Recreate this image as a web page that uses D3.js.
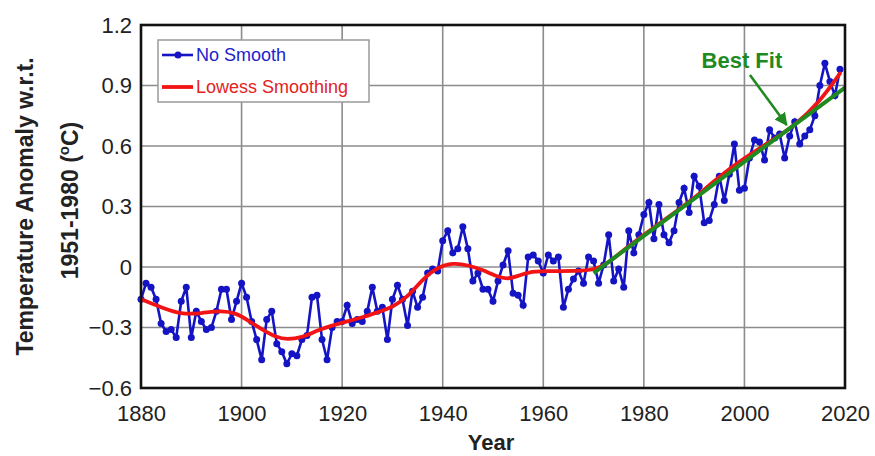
<!DOCTYPE html>
<html>

<head>
  <meta charset="utf-8">
  <title>temperature-anomaly</title>
  <style>
    * {
      padding: 0;
      margin: 0;
    }

    body {
      background: #fff;
      font-family: Arial, "Liberation Sans", sans-serif;
    }

    .grid line {
      stroke: #8c8c8c;
      stroke-width: 1.6;
    }

    .axis text {
      font-size: 22px;
      fill: #222;
    }

    .axis path,
    .axis line {
      display: none;
    }
  </style>
</head>

<body>
  <svg id="svg"></svg>
  <script src="https://cdnjs.cloudflare.com/ajax/libs/d3/7.8.5/d3.min.js"></script>
  <script>
    // annual anomalies, 1880..2019
    const startYear = 1880;
    const anomalies = [
      -0.16, -0.08, -0.10, -0.16, -0.28, -0.32, -0.31, -0.35, -0.17, -0.10,
      -0.35, -0.22, -0.27, -0.31, -0.30, -0.22, -0.11, -0.11, -0.26, -0.17,
      -0.08, -0.15, -0.27, -0.36, -0.46, -0.26, -0.22, -0.38, -0.42, -0.48,
      -0.43, -0.44, -0.36, -0.34, -0.15, -0.14, -0.36, -0.46, -0.30, -0.27,
      -0.27, -0.19, -0.28, -0.26, -0.27, -0.22, -0.10, -0.22, -0.20, -0.36,
      -0.16, -0.09, -0.16, -0.29, -0.12, -0.20, -0.15, -0.03, -0.01, -0.02,
      0.13, 0.18, 0.07, 0.09, 0.20, 0.09, -0.07, -0.03, -0.11, -0.11,
      -0.17, -0.07, 0.01, 0.08, -0.13, -0.14, -0.19, 0.05, 0.06, 0.03,
      -0.03, 0.06, 0.03, 0.05, -0.20, -0.11, -0.06, -0.02, -0.08, 0.05,
      0.03, -0.08, 0.01, 0.16, -0.07, -0.01, -0.10, 0.18, 0.07, 0.16,
      0.26, 0.32, 0.14, 0.31, 0.16, 0.12, 0.18, 0.32, 0.39, 0.27,
      0.45, 0.40, 0.22, 0.23, 0.31, 0.45, 0.33, 0.46, 0.61, 0.38,
      0.39, 0.54, 0.63, 0.62, 0.53, 0.68, 0.64, 0.66, 0.54, 0.65,
      0.72, 0.61, 0.65, 0.68, 0.75, 0.90, 1.01, 0.92, 0.85, 0.98
    ];

    // lowess curve
    const smoothYears = [1880, 1884, 1888, 1892, 1896, 1899, 1901, 1904, 1907, 1909,
      1912, 1915, 1918, 1921, 1924, 1927, 1930, 1933, 1936, 1939,
      1942, 1945, 1948, 1951, 1953, 1955, 1957, 1960, 1967, 1970,
      1973, 1976, 1980, 1985, 1990, 1995, 2000, 2005, 2010, 2015, 2019];
    const smoothValues = [-0.16, -0.20, -0.235, -0.23, -0.215, -0.23, -0.26, -0.31, -0.35, -0.36,
      -0.35, -0.315, -0.29, -0.27, -0.25, -0.225, -0.20, -0.15, -0.06, 0.00,
      0.02, 0.01, -0.015, -0.05, -0.06, -0.045, -0.025, -0.02, -0.02, -0.015,
      0.02, 0.085, 0.16, 0.25, 0.34, 0.45, 0.54, 0.62, 0.70, 0.82, 0.96];

    // linear best fit, 1970..2020
    const fitYears = [1970, 2020];
    const fitValues = [-0.03, 0.89];

    const xTicks = [1880, 1900, 1920, 1940, 1960, 1980, 2000, 2020];
    const yTicks = [-0.6, -0.3, 0, 0.3, 0.6, 0.9, 1.2];

    const legendLabels = ['No Smooth', 'Lowess Smoothing'];

    // "Best Fit" note and its arrow, in data units
    const noteAt = [1999.5, 0.987];
    const arrowFrom = [2001.1, 0.952];
    const arrowTo = [2008.4, 0.704];

    const dimension = {
      width: 875,
      height: 456,
      margin: { top: 25, right: 30, bottom: 68, left: 141 }
    };
    const blue = '#1414c4', red = '#f21414', green = '#1f8a1f';

    const svg = d3.select('#svg').attr('width', dimension.width).attr('height', dimension.height);

    const xScale = d3.scaleLinear().domain([1880, 2020])
      .range([dimension.margin.left, dimension.width - dimension.margin.right]);
    const yScale = d3.scaleLinear().domain([-0.6, 1.2])
      .range([dimension.height - dimension.margin.bottom, dimension.margin.top]);

    const points = anomalies.map((v, i) => ({ year: startYear + i, value: v }));
    const smooth = smoothYears.map((y, i) => ({ year: y, value: smoothValues[i] }));
    const fit = fitYears.map((y, i) => ({ year: y, value: fitValues[i] }));

    // grid
    const grid = svg.append('g').attr('class', 'grid');
    grid.selectAll('.gx').data(xTicks.slice(1, -1)).enter().append('line')
      .attr('x1', d => xScale(d)).attr('x2', d => xScale(d))
      .attr('y1', yScale(1.2)).attr('y2', yScale(-0.6));
    grid.selectAll('.gy').data(yTicks.slice(1, -1)).enter().append('line')
      .attr('x1', xScale(1880)).attr('x2', xScale(2020))
      .attr('y1', d => yScale(d)).attr('y2', d => yScale(d));

    // axes (labels only)
    svg.append('g').attr('class', 'axis')
      .attr('transform', `translate(0, ${yScale(-0.6)})`)
      .call(d3.axisBottom(xScale).tickValues(xTicks).tickFormat(d3.format('d')).tickSize(0).tickPadding(17));
    svg.append('g').attr('class', 'axis')
      .attr('transform', `translate(${xScale(1880)}, 0)`)
      .call(d3.axisLeft(yScale).tickValues(yTicks).tickFormat(d => d === 0 ? '0' : d3.format('.1f')(d)).tickSize(0).tickPadding(9));

    // data
    const line = d3.line().x(d => xScale(d.year)).y(d => yScale(d.value));

    svg.append('path').datum(points)
      .attr('d', line)
      .attr('fill', 'none').attr('stroke', blue).attr('stroke-width', 2.6);
    svg.selectAll('.dot').data(points).enter().append('circle')
      .attr('class', 'dot')
      .attr('cx', d => xScale(d.year))
      .attr('cy', d => yScale(d.value))
      .attr('r', 3.5)
      .attr('fill', blue);

    svg.append('path').datum(smooth)
      .attr('d', d3.line().x(d => xScale(d.year)).y(d => yScale(d.value)).curve(d3.curveBasis))
      .attr('fill', 'none').attr('stroke', red).attr('stroke-width', 3.8).attr('stroke-linecap', 'round');

    svg.append('path').datum(fit)
      .attr('d', line)
      .attr('fill', 'none').attr('stroke', green).attr('stroke-width', 4);

    // frame
    svg.append('rect')
      .attr('x', xScale(1880)).attr('y', yScale(1.2))
      .attr('width', xScale(2020) - xScale(1880))
      .attr('height', yScale(-0.6) - yScale(1.2))
      .attr('fill', 'none').attr('stroke', '#111').attr('stroke-width', 2.6);

    // best fit note
    svg.append('defs').append('marker')
      .attr('id', 'arrow').attr('viewBox', '0 0 10 10')
      .attr('refX', 9).attr('refY', 5)
      .attr('markerWidth', 5).attr('markerHeight', 5)
      .attr('orient', 'auto')
      .append('path').attr('d', 'M0,0 L10,5 L0,10 z').attr('fill', green);
    svg.append('line')
      .attr('x1', xScale(arrowFrom[0])).attr('y1', yScale(arrowFrom[1]))
      .attr('x2', xScale(arrowTo[0])).attr('y2', yScale(arrowTo[1]))
      .attr('stroke', green).attr('stroke-width', 2.6)
      .attr('marker-end', 'url(#arrow)');
    svg.append('text')
      .attr('x', xScale(noteAt[0])).attr('y', yScale(noteAt[1]))
      .attr('text-anchor', 'middle')
      .style('font-size', '22px').style('font-weight', 'bold')
      .attr('fill', green)
      .text('Best Fit');

    // legend
    const legend = svg.append('g').attr('transform', 'translate(158, 40)');
    legend.append('rect')
      .attr('width', 211).attr('height', 62)
      .attr('fill', '#fff').attr('stroke', '#9a9a9a').attr('stroke-width', 1.5);
    const items = legend.selectAll('.legend-item').data(legendLabels).enter().append('g')
      .attr('transform', (d, i) => `translate(0, ${15 + i * 32})`);
    items.append('line')
      .attr('x1', 4).attr('x2', 35)
      .attr('stroke', (d, i) => i === 0 ? blue : red)
      .attr('stroke-width', (d, i) => i === 0 ? 2.6 : 3.8);
    items.filter((d, i) => i === 0).append('circle')
      .attr('cx', 20).attr('r', 3.5).attr('fill', blue);
    items.append('text')
      .attr('x', 38).attr('dy', '0.35em')
      .style('font-size', '18px')
      .attr('fill', (d, i) => i === 0 ? '#2222cc' : '#e42222')
      .text(d => d);

    // axis titles
    svg.append('text')
      .attr('x', (xScale(1880) + xScale(2020)) / 2 - 2).attr('y', 450)
      .attr('text-anchor', 'middle')
      .style('font-size', '22px').style('font-weight', 'bold')
      .attr('fill', '#222')
      .text('Year');

    const midY = (yScale(1.2) + yScale(-0.6)) / 2;
    svg.append('text')
      .attr('transform', `translate(33, ${midY}) rotate(-90)`)
      .attr('text-anchor', 'middle')
      .style('font-size', '23px').style('font-weight', 'bold')
      .attr('fill', '#222')
      .text('Temperature Anomaly w.r.t.');
    const t2 = svg.append('text')
      .attr('transform', `translate(78, ${midY - 6}) rotate(-90)`)
      .attr('text-anchor', 'middle')
      .style('font-size', '23px').style('font-weight', 'bold')
      .attr('fill', '#222');
    t2.append('tspan').text('1951-1980 (');
    t2.append('tspan').attr('dy', -9).style('font-size', '15px').text('o');
    t2.append('tspan').attr('dy', 9).text('C)');
  </script>
</body>

</html>
